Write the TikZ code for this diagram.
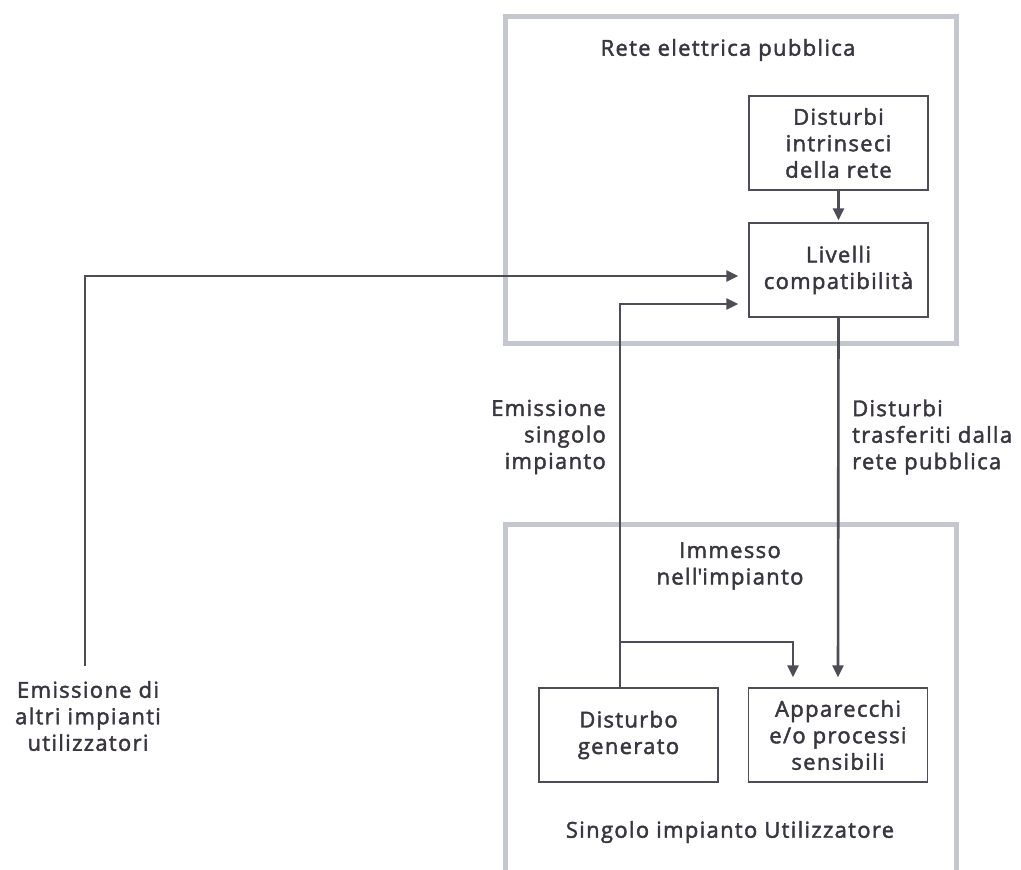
\documentclass[tikz,border=0pt]{standalone}
\usepackage{fontspec}
\setmainfont{Open Sans}[Ligatures=NoCommon, LetterSpace=6, FakeBold=2]
\usetikzlibrary{arrows.meta}
\definecolor{txt}{HTML}{3A3640}
\definecolor{ln}{HTML}{4E4C56}
\definecolor{frame}{HTML}{C4C6D0}
\begin{document}
\begin{tikzpicture}[x=1pt,y=-1pt,
  lbl/.style={font=\fontsize{22}{26.5}\selectfont, text=txt, inner sep=0pt},
  boxn/.style={draw=ln, line width=1.4pt, minimum width=179pt, minimum height=94pt, align=center, inner sep=0pt, font=\fontsize{22}{26.5}\selectfont, text=txt},
  conn/.style={draw=ln, line width=2.6pt, -{Triangle[length=12pt,width=11pt]}},
  frm/.style={draw=frame, line width=5pt}]
\useasboundingbox (0,0) rectangle (1021,870);
\fill[white] (0,0) rectangle (1021,870);
% frames
\draw[frm] (505,16) rectangle (956,343);
\draw[frm] (505,880) |- (956,524) -- (956,880);
% titles
\node[lbl] (rete) at (728,50) {Rete elettrica pubblica};
\node[lbl, align=center] (immesso) at (730,566) {Immesso\\nell\textquotesingle impianto};
\node[lbl] (singolo) at (730,832) {Singolo impianto Utilizzatore};
% boxes
\node[boxn] (intr) at (838.5,143) {Disturbi\\intrinseci\\della rete};
\node[boxn] (liv) at (838.5,270) {Livelli\\compatibilità};
\node[boxn] (gen) at (628.5,735) {Disturbo\\generato};
\node[boxn] (app) at (838,735) {Apparecchi\\e/o processi\\sensibili};
% labels
\node[lbl, align=right, anchor=east] (emsing) at (606,437) {Emissione\\singolo\\impianto};
\node[lbl, align=left, anchor=west] (distr) at (852,437) {Disturbi\\trasferiti dalla\\rete pubblica};
\node[lbl, align=center] (altri) at (88,716) {Emissione di\\altri impianti\\utilizzatori};
% coordinates
\coordinate (a0) at (85,666);
\coordinate (b1) at (620,642);
% connectors
\draw[conn] (intr.south) -- ([yshift=2pt]liv.north);
\draw[conn] (a0) |- ([xshift=-10pt,yshift=-6pt]liv.west);
\draw[conn] (gen.north -| b1) |- ([xshift=-10pt,yshift=-34pt]liv.west);
\draw[conn] (b1) -| ([xshift=-45pt,yshift=10pt]app.north);
\draw[conn] (liv.south) -- ([yshift=10pt]app.north);
\end{tikzpicture}
\end{document}
